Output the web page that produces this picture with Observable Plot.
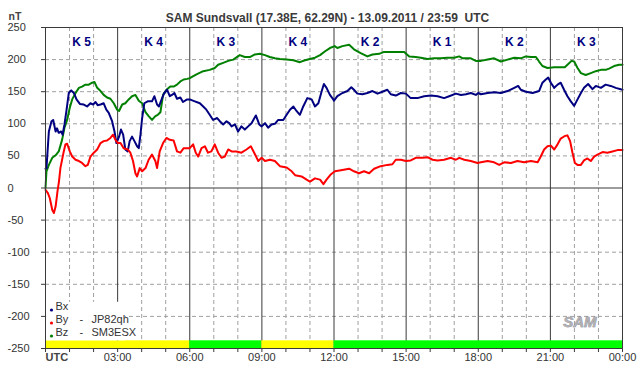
<!DOCTYPE html>
<html>
<head>
<meta charset="utf-8">
<script src="https://cdn.jsdelivr.net/npm/d3@7"></script>
<script src="https://cdn.jsdelivr.net/npm/@observablehq/plot@0.6"></script>
<style>
  html, body { margin: 0; padding: 0; background: #fff; }
</style>
</head>
<body>
<div id="chart"></div>
<script>
// ---- data (hour UTC, nT) ----
const bx = [[0,30],[0.04,31],[0.14,88],[0.25,104],[0.32,106],[0.42,88],[0.48,93],[0.55,86],[0.65,88],[0.71,83],[0.79,99],[0.87,120],[0.97,148],[1.07,152],[1.18,148],[1.29,138],[1.43,131],[1.59,130],[1.73,127],[1.87,132],[1.98,130],[2.08,134],[2.17,129],[2.29,130],[2.42,132],[2.53,122],[2.63,117],[2.77,104],[2.87,88],[2.95,70],[3.06,80],[3.14,91],[3.23,83],[3.32,60],[3.42,57],[3.50,73],[3.60,80],[3.70,73],[3.81,65],[3.88,62],[3.95,83],[4.02,109],[4.11,132],[4.25,135],[4.43,135],[4.53,143],[4.64,130],[4.72,127],[4.85,140],[4.94,148],[5.06,153],[5.17,143],[5.26,145],[5.36,148],[5.47,139],[5.61,141],[5.72,134],[5.89,138],
[6.0,138],[6.21,135],[6.42,132],[6.56,127],[6.69,122],[6.83,114],[6.97,106],[7.14,109],[7.25,104],[7.39,99],[7.53,104],[7.64,101],[7.74,96],[7.88,99],[8.01,88],[8.15,96],[8.29,91],[8.43,96],[8.57,101],[8.75,113],[8.89,99],[8.99,96],[9.13,101],[9.26,94],[9.40,99],[9.54,100],[9.68,106],[9.89,106],[10.03,114],[10.17,122],[10.31,127],[10.44,120],[10.58,114],[10.72,127],[10.89,140],[11.07,138],[11.21,127],[11.35,132],[11.49,151],[11.58,162],[11.69,156],[11.83,145],[11.97,138],
[12.0,136],[12.14,143],[12.35,148],[12.56,151],[12.72,157],[12.83,153],[12.97,147],[13.18,146],[13.39,148],[13.6,151],[13.81,147],[14.01,150],[14.22,153],[14.36,146],[14.57,144],[14.78,148],[14.99,147],[15.19,140],[15.47,140],[15.75,143],[16.03,144],[16.31,143],[16.58,140],[16.79,143],[17.07,147],[17.28,145],[17.49,146],[17.69,148],[17.9,145],
[18.0,148],[18.11,146],[18.39,148],[18.66,149],[18.94,148],[19.22,151],[19.5,156],[19.66,159],[19.77,153],[19.98,150],[20.26,148],[20.53,151],[20.67,164],[20.81,169],[20.91,172],[21.02,164],[21.16,156],[21.3,161],[21.43,164],[21.57,153],[21.71,143],[21.85,135],[21.99,128],[22.13,138],[22.27,148],[22.4,156],[22.57,162],[22.75,154],[22.89,159],[23.1,156],[23.3,161],[23.51,159],[23.72,156],[24,153]];

const by = [[0,-3],[0.1,-8],[0.18,-16],[0.28,-34],[0.35,-39],[0.42,-29],[0.5,-5],[0.56,10],[0.62,31],[0.69,44],[0.76,57],[0.83,68],[0.9,69],[1.01,57],[1.11,49],[1.25,44],[1.39,42],[1.52,39],[1.66,34],[1.76,36],[1.87,49],[2.01,55],[2.15,60],[2.29,70],[2.42,73],[2.56,74],[2.7,78],[2.81,83],[2.91,75],[3.01,70],[3.12,70],[3.25,62],[3.42,60],[3.53,55],[3.64,42],[3.74,23],[3.81,18],[3.92,31],[4.02,26],[4.16,31],[4.29,44],[4.43,52],[4.57,42],[4.64,31],[4.75,57],[4.89,70],[5.03,78],[5.17,75],[5.33,74],[5.47,57],[5.61,55],[5.75,62],[5.89,62],
[6.0,62],[6.14,68],[6.25,55],[6.35,49],[6.49,62],[6.63,65],[6.76,55],[6.9,57],[7.04,68],[7.18,55],[7.32,47],[7.46,49],[7.6,60],[7.74,57],[7.94,57],[8.15,55],[8.36,60],[8.54,65],[8.68,55],[8.85,42],[8.99,47],[9.13,42],[9.33,44],[9.54,42],[9.75,34],[10.03,32],[10.24,26],[10.38,20],[10.65,18],[10.86,13],[11.0,10],[11.21,15],[11.42,13],[11.56,6],[11.69,13],[11.86,21],[12.04,26],
[12.35,28],[12.63,30],[12.83,26],[13.04,23],[13.25,26],[13.46,23],[13.67,30],[13.94,34],[14.22,36],[14.43,37],[14.57,44],[14.78,44],[14.99,42],[15.19,43],[15.4,47],[15.68,47],[15.89,48],[16.1,44],[16.31,43],[16.58,44],[16.86,47],[17.07,44],[17.21,47],[17.42,44],[17.69,42],[17.97,39],
[18.11,40],[18.39,42],[18.66,40],[18.87,36],[19.08,40],[19.36,39],[19.63,42],[19.91,40],[20.19,42],[20.47,40],[20.6,49],[20.74,60],[20.88,65],[21.02,66],[21.16,60],[21.3,68],[21.43,77],[21.6,81],[21.71,82],[21.82,73],[21.92,55],[22.02,39],[22.13,36],[22.27,36],[22.4,43],[22.54,46],[22.68,42],[22.82,49],[22.96,52],[23.17,56],[23.37,55],[23.58,57],[23.79,59],[24,59]];

const bz = [[0,0],[0.04,26],[0.14,36],[0.28,47],[0.42,51],[0.55,57],[0.69,75],[0.79,94],[0.9,106],[1.01,125],[1.11,138],[1.25,148],[1.39,156],[1.52,158],[1.66,161],[1.8,161],[1.94,164],[2.04,165],[2.15,156],[2.29,151],[2.42,145],[2.56,141],[2.7,139],[2.84,132],[2.98,122],[3.06,120],[3.19,130],[3.32,132],[3.46,138],[3.6,143],[3.74,145],[3.88,136],[4.02,132],[4.16,118],[4.29,112],[4.43,106],[4.57,112],[4.67,114],[4.78,118],[4.89,145],[5.03,153],[5.19,158],[5.33,158],[5.47,161],[5.61,166],[5.75,169],[5.89,170],
[6.0,171],[6.28,177],[6.56,182],[6.83,184],[7.04,187],[7.18,192],[7.39,195],[7.6,198],[7.81,200],[8.08,207],[8.29,204],[8.5,204],[8.71,208],[8.92,209],[9.13,207],[9.33,204],[9.54,202],[9.75,201],[10.03,200],[10.31,199],[10.58,196],[10.79,199],[11.0,201],[11.21,203],[11.42,207],[11.63,213],[11.83,218],[12.03,221],
[12.14,218],[12.35,221],[12.63,223],[12.83,216],[13.11,210],[13.39,205],[13.6,208],[13.88,209],[14.08,212],[14.36,212],[14.64,212],[14.92,212],[15.13,205],[15.4,204],[15.61,203],[15.89,201],[16.17,202],[16.44,202],[16.72,203],[17.0,203],[17.21,205],[17.35,202],[17.69,202],[17.9,198],
[18.11,198],[18.39,200],[18.66,202],[18.94,197],[19.22,200],[19.5,203],[19.77,202],[19.98,205],[20.19,204],[20.4,204],[20.53,197],[20.67,190],[20.88,187],[21.16,188],[21.43,188],[21.6,188],[21.71,192],[21.88,198],[21.99,197],[22.13,187],[22.27,179],[22.47,176],[22.68,179],[22.89,182],[23.1,184],[23.3,184],[23.44,186],[23.65,190],[23.86,192],[24,192]];

const kIndex = [5, 4, 3, 4, 2, 1, 2, 3];
const barStart = [0, 6, 9, 12];
const barEnd = [6, 9, 12, 24];
const barColor = ["#ffff00", "#00ff00", "#ffff00", "#00ff00"];
const yTicks = [-250, -200, -150, -100, -50, 0, 50, 100, 150, 200, 250];
const xLabelHours = [3, 6, 9, 12, 15, 18, 21, 24];
const xLabels = ["03:00", "06:00", "09:00", "12:00", "15:00", "18:00", "21:00", "00:00"];
const seriesNames = ["Bx", "By", "Bz"];
const seriesColors = ["#000080", "#ff0000", "#008000"];
const seriesStations = ["", "JP82qh", "SM3ESX"];
const title = "SAM Sundsvall (17.38E, 62.29N) - 13.09.2011 / 23:59  UTC";

// ---- helpers ----
const hours = d3.range(0, 25);
const dashedHours = hours.filter(h => h % 3 !== 0);
const solidHours = hours.filter(h => h % 3 === 0 && h > 0 && h < 24);
const dashedVals = yTicks.filter(v => v !== 0 && Math.abs(v) !== 250);
const bars = barStart.map((s, i) => ({s, e: barEnd[i], c: barColor[i]}));
const font = "'Liberation Sans', Arial, sans-serif";
const gridGray = "#a0a0a0";
const dark = "#3a3a3a";

const legendMarks = [];
const legendDy = [-38.5, -25.5, -12.5];
seriesNames.forEach((n, i) => {
  legendMarks.push(Plot.dot([n], {frameAnchor: "bottom-left", dx: 6, dy: legendDy[i], r: 1.6, fill: seriesColors[i], stroke: "none"}));
  legendMarks.push(Plot.text([n], {frameAnchor: "bottom-left", dx: 10, dy: legendDy[i], text: d => d, textAnchor: "start", fontSize: 11, fill: "#333"}));
  if (seriesStations[i]) {
    legendMarks.push(Plot.text(["-"], {frameAnchor: "bottom-left", dx: 34, dy: legendDy[i], text: d => d, textAnchor: "start", fontSize: 11, fill: "#333"}));
    legendMarks.push(Plot.text([seriesStations[i]], {frameAnchor: "bottom-left", dx: 46, dy: legendDy[i], text: d => d, textAnchor: "start", fontSize: 11, fill: "#333"}));
  }
});

const chart = Plot.plot({
  width: 642,
  height: 376,
  marginLeft: 45,
  marginRight: 20,
  marginTop: 27,
  marginBottom: 28,
  style: {background: "#fff", fontFamily: font, fontSize: "11px", color: dark},
  x: {domain: [0, 24]},
  y: {domain: [-250, 250]},
  marks: [
    // grid
    Plot.ruleY(dashedVals, {y: d => d, stroke: gridGray, strokeDasharray: "4,3", strokeWidth: 1}),
    Plot.ruleX(dashedHours, {x: d => d, stroke: gridGray, strokeDasharray: "4,3", strokeWidth: 1}),
    Plot.ruleX(solidHours, {x: d => d, stroke: dark, strokeWidth: 1}),
    Plot.ruleY([0], {stroke: dark, strokeWidth: 1}),
    // bottom status bar
    Plot.rect(bars, {x1: "s", x2: "e", y1: -250, y2: -238, fill: "c", stroke: "none"}),
    // legend background
    Plot.rect([0], {x1: 0.05, x2: 3.33, y1: -238, y2: -178, fill: "#fff", stroke: "none"}),
    // series
    Plot.line(bz, {x: d => d[0], y: d => d[1], stroke: seriesColors[2], strokeWidth: 2}),
    Plot.line(bx, {x: d => d[0], y: d => d[1], stroke: seriesColors[0], strokeWidth: 2}),
    Plot.line(by, {x: d => d[0], y: d => d[1], stroke: seriesColors[1], strokeWidth: 2}),
    // frame
    Plot.frame({stroke: dark, strokeWidth: 1}),
    // axes ticks
    Plot.axisY(yTicks, {tickSize: 4, tickFormat: () => "", stroke: dark, label: null}),
    Plot.axisX(hours, {tickSize: 4, tickFormat: () => "", stroke: dark, label: null}),
    // y labels
    Plot.text(yTicks, {y: d => d, text: d => String(d), frameAnchor: "left", dx: -38, textAnchor: "start", fontSize: 11, fill: "#333"}),
    // x labels
    Plot.text(xLabelHours, {x: d => d, text: (d, i) => xLabels[i], frameAnchor: "bottom", dy: 12, fontSize: 11, fill: "#333"}),
    Plot.text(["UTC"], {x: 0, text: d => d, frameAnchor: "bottom", dy: 12, textAnchor: "start", fontSize: 11, fontWeight: "bold", fill: "#444"}),
    // K indices
    Plot.text(kIndex, {x: (d, i) => i * 3 + 1.5, text: d => "K " + d, frameAnchor: "top", dy: 9.5, fontSize: 12, fontWeight: "bold", fill: "#000080"}),
    // title and unit
    Plot.text([title], {frameAnchor: "top", dx: -6.5, dy: -14, text: d => d, fontSize: 12, fontWeight: "bold", fill: "#3a3a3a"}),
    Plot.text(["nT"], {frameAnchor: "top-left", dx: -37, dy: -15, text: d => d, textAnchor: "start", fontSize: 10.5, fontWeight: "bold", fill: "#444"}),
    // legend
    ...legendMarks,
    // logo
    Plot.text(["SAM"], {frameAnchor: "bottom-right", dx: -26, dy: -22, text: d => d, fontSize: 15, fontStyle: "italic", fontWeight: "bold", fill: "#b0b0b0", stroke: "#5a5a80", strokeWidth: 0.5, letterSpacing: "1px"})
  ]
});
document.getElementById("chart").appendChild(chart);
</script>
</body>
</html>
